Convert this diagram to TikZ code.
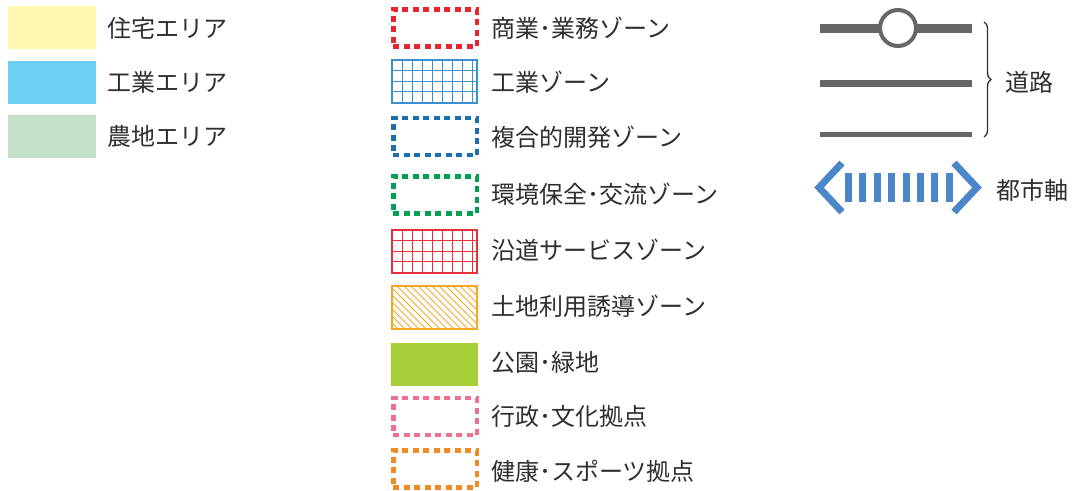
\documentclass[tikz,border=0pt]{standalone}
\usepackage{fontspec}
\setmainfont{Noto Sans CJK JP}
\usetikzlibrary{decorations.pathreplacing}
\definecolor{txt}{HTML}{2E2E2E}
\definecolor{cyel}{HTML}{FFF7B0}
\definecolor{cblu}{HTML}{6CCFF6}
\definecolor{cgrn}{HTML}{C4E0C8}
\definecolor{cpark}{HTML}{A6CE39}
\definecolor{dred}{HTML}{E8242F}
\definecolor{dblue}{HTML}{1A6FB0}
\definecolor{dgreen}{HTML}{00A050}
\definecolor{dpink}{HTML}{F07090}
\definecolor{dorange}{HTML}{F28A24}
\definecolor{gblue}{HTML}{3A90D0}
\definecolor{gred}{HTML}{E8303A}
\definecolor{horange}{HTML}{F6A823}
\definecolor{road}{HTML}{666666}
\definecolor{axis}{HTML}{4A86C8}
\tikzset{
  lbl/.style={anchor=west, text=txt, font=\fontsize{24}{24}\selectfont, inner sep=0pt},
  swatch/.style={minimum width=88pt, minimum height=43pt, inner sep=0pt, draw=none},
  zone/.style={minimum width=83.5pt, minimum height=37pt, inner sep=0pt, line width=4.5pt, dash pattern=on 6pt off 4.5pt},
  roadline/.style={draw=road},
}
\begin{document}
\begin{tikzpicture}[x=1pt,y=-1pt]
\useasboundingbox (0,0) rectangle (1083,490);
% left column
\node[swatch, fill=cyel, anchor=north west] (s1) at (8,6) {};
\node[swatch, fill=cblu, anchor=north west] (s2) at (8,61) {};
\node[swatch, fill=cgrn, anchor=north west] (s3) at (8,115) {};
\node[lbl] (t1) at (107,28) {住宅エリア};
\node[lbl] (t2) at (107,82) {工業エリア};
\node[lbl] (t3) at (107,136) {農地エリア};
% middle column
\node[zone, draw=dred] (z1) at (435,28) {};
\node[lbl] (u1) at (491,28) {商業･業務ゾーン};
% grid blue
\begin{scope}
\clip (392,60) rectangle (477,103);
\foreach \x in {392,402,...,482} \draw[gblue, line width=0.8pt] (\x,60) -- (\x,103);
\foreach \y in {60,70.5,...,104} \draw[gblue, line width=0.8pt] (392,\y) -- (477,\y);
\end{scope}
\node[draw=gblue, line width=1.6pt, minimum width=85pt, minimum height=43pt, inner sep=0pt] (z2) at (434.5,81.5) {};
\node[lbl] (u2) at (491,82) {工業ゾーン};
\node[zone, draw=dblue] (z3) at (435,136.5) {};
\node[lbl] (u3) at (491,137) {複合的開発ゾーン};
\node[zone, draw=dgreen] (z4) at (435,195) {};
\node[lbl] (u4) at (491,194) {環境保全･交流ゾーン};
% grid red
\begin{scope}
\clip (392,230) rectangle (477,273);
\foreach \x in {392,402,...,482} \draw[gred, line width=0.8pt] (\x,230) -- (\x,273);
\foreach \y in {230,240.5,...,274} \draw[gred, line width=0.8pt] (392,\y) -- (477,\y);
\end{scope}
\node[draw=gred, line width=1.6pt, minimum width=85pt, minimum height=43pt, inner sep=0pt] (z5) at (434.5,251.5) {};
\node[lbl] (u5) at (491,250) {沿道サービスゾーン};
% hatch orange
\begin{scope}
\clip (392,286) rectangle (477,329);
\foreach \x in {320,327,...,480} \draw[horange, line width=0.9pt] (\x,286) -- (\x+43,329);
\end{scope}
\node[draw=horange, line width=1.6pt, minimum width=85pt, minimum height=43pt, inner sep=0pt] (z6) at (434.5,307.5) {};
\node[lbl] (u6) at (491,306) {土地利用誘導ゾーン};
\node[swatch, fill=cpark, minimum width=87pt, anchor=north west] (z7) at (391,343) {};
\node[lbl] (u7) at (491,362) {公園･緑地};
\node[zone, draw=dpink] (z8) at (435,416.5) {};
\node[lbl] (u8) at (491,416) {行政･文化拠点};
\node[zone, draw=dorange] (z9) at (435,469) {};
\node[lbl] (u9) at (491,471) {健康･スポーツ拠点};
% roads
\coordinate (r1a) at (820,28); \coordinate (r1b) at (972,28);
\coordinate (r2a) at (820,83); \coordinate (r2b) at (972,83);
\coordinate (r3a) at (820,134.5); \coordinate (r3b) at (972,134.5);
\draw[roadline, line width=9pt] (r1a) -- (r1b);
\node[circle, draw=road, fill=white, line width=4pt, minimum size=36pt, inner sep=0pt] (rc) at (898,28) {};
\draw[roadline, line width=7pt] (r2a) -- (r2b);
\draw[roadline, line width=5.5pt] (r3a) -- (r3b);
\coordinate (b1) at (984,22); \coordinate (b2) at (984,137);
\draw[decorate, decoration={brace, amplitude=7pt}, line width=1.3pt, txt] (b1) -- (b2);
\node[lbl] (rl) at (1005,82) {道路};
% city axis
\coordinate (la) at (842,163); \coordinate (lb) at (819,187.5); \coordinate (lc) at (842,212);
\coordinate (ra) at (954,163); \coordinate (rb) at (977,187.5); \coordinate (rcc) at (954,212);
\draw[axis, line width=7pt, line join=miter] (la) -- (lb) -- (lc);
\draw[axis, line width=7pt, line join=miter] (ra) -- (rb) -- (rcc);
\foreach \i in {0,...,7} \fill[axis] (845+\i*14.4,173) rectangle ++(7,29);
\node[lbl] (al) at (996,190) {都市軸};
\end{tikzpicture}
\end{document}
